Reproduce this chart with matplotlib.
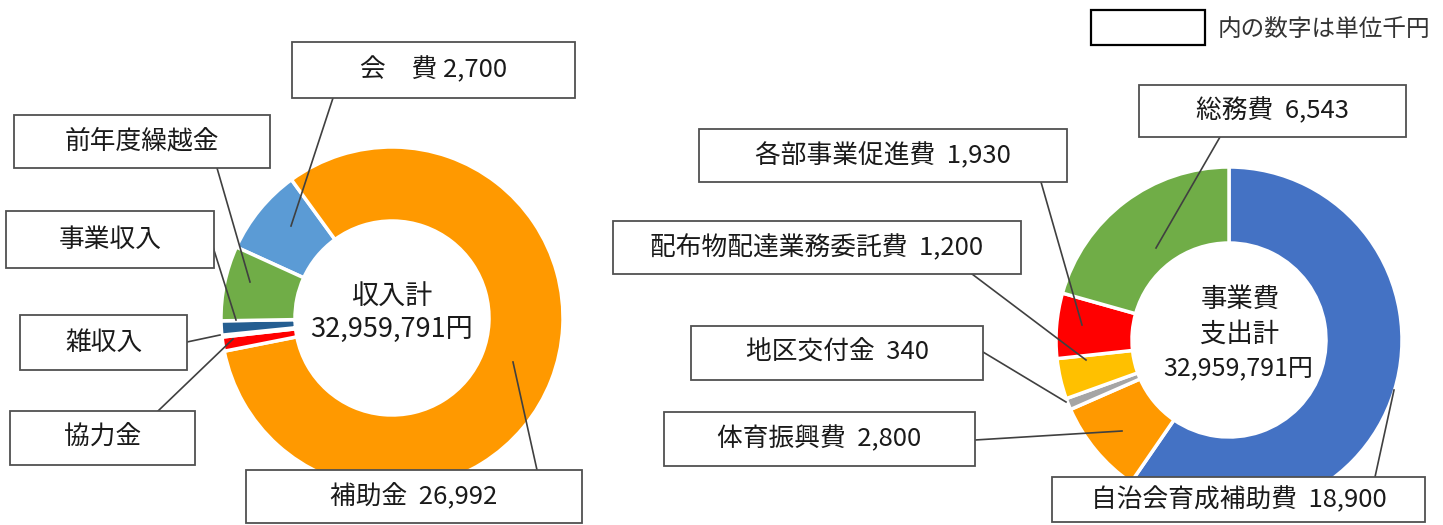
import matplotlib
matplotlib.use("Agg")
import matplotlib.pyplot as plt
from matplotlib.patches import Rectangle

plt.rcParams['font.family'] = ['Noto Sans CJK JP', 'DejaVu Sans']

W, H = 1443, 525

# income (千円), clockwise order
inc_names = ["会費", "補助金", "協力金", "雑収入", "事業収入", "前年度繰越金"]
inc_values = [2700, 26992, 438, 60, 440, 2330]
inc_colors = ["#5B9BD5", "#FF9900", "#FF0000", "#FFFFFF", "#255E91", "#70AD47"]

# expenses (千円), clockwise order from 12 o'clock
exp_names = ["自治会育成補助費", "体育振興費", "地区交付金", "配布物配達業務委託費", "各部事業促進費", "総務費"]
exp_values = [18900, 2800, 340, 1200, 1930, 6543]
exp_colors = ["#4472C4", "#FF9900", "#A5A5A5", "#FFC000", "#FF0000", "#70AD47"]

inc_total = "32,959,791円"
exp_total = "32,959,791円"

inc_labels = ["会　費 2,700", "補助金  26,992", "協力金", "雑収入", "事業収入", "前年度繰越金"]
exp_labels = ["自治会育成補助費  18,900", "体育振興費  2,800", "地区交付金  340",
              "配布物配達業務委託費  1,200", "各部事業促進費  1,930", "総務費  6,543"]

# label boxes in pixel coords (left, top, right, bottom) and leader lines
inc_boxes = [(292, 42, 575, 98), (246, 470, 582, 523), (10, 411, 195, 465),
             (20, 315, 187, 370), (6, 211, 214, 268), (14, 115, 270, 168)]
inc_lines = [((333, 98), (291, 226)), ((537, 470), (513, 362)), ((158, 411), (233, 339)),
             ((187, 342), (220, 335)), ((213, 247), (236, 320)), ((217, 168), (250, 282))]
exp_boxes = [(1052, 477, 1425, 522), (664, 412, 975, 466), (691, 326, 983, 380),
             (613, 221, 1021, 274), (699, 129, 1067, 182), (1139, 85, 1406, 137)]
exp_lines = [((1375, 477), (1394, 390)), ((975, 440), (1122, 431)), ((983, 352), (1066, 402)),
             ((972, 274), (1086, 360)), ((1041, 182), (1082, 325)), ((1220, 137), (1156, 248))]


def py(y):
    return H - y


fig = plt.figure(figsize=(W / 100, H / 100), dpi=100)
ax = fig.add_axes([0, 0, 1, 1])

R, r = 171, 97
ax.pie(inc_values, colors=inc_colors, startangle=155.5, counterclock=False,
       center=(392, py(318)), radius=R,
       wedgeprops=dict(width=R - r, edgecolor='white', linewidth=2.5))
ax.pie(exp_values, colors=exp_colors, startangle=90, counterclock=False,
       center=(1229, py(340)), radius=R + 2,
       wedgeprops=dict(width=R + 2 - r, edgecolor='white', linewidth=2.5))

txt = '#1a1a1a'
ax.text(392, py(296), "収入計", ha='center', va='center', fontsize=19.5, color=txt)
ax.text(392, py(329), inc_total, ha='center', va='center', fontsize=19.5, color=txt)
ax.text(1240, py(299), "事業費", ha='center', va='center', fontsize=19, color=txt)
ax.text(1240, py(334), "支出計", ha='center', va='center', fontsize=19, color=txt)
ax.text(1238, py(368), exp_total, ha='center', va='center', fontsize=18, color=txt)

for labels, boxes, lines in [(inc_labels, inc_boxes, inc_lines), (exp_labels, exp_boxes, exp_lines)]:
    for lab, (x0, y0, x1, y1), (p0, p1) in zip(labels, boxes, lines):
        ax.plot([p0[0], p1[0]], [py(p0[1]), py(p1[1])], color='#404040', lw=1.2, zorder=3)
        ax.add_patch(Rectangle((x0, py(y1)), x1 - x0, y1 - y0, facecolor='white',
                               edgecolor='#505050', lw=1.3, zorder=4))
        ax.text((x0 + x1) / 2, py((y0 + y1) / 2), lab, ha='center', va='center',
                fontsize=18.5, color=txt, zorder=5)

# unit note
ax.add_patch(Rectangle((1091, py(45)), 114, 35, facecolor='white', edgecolor='black', lw=1.6, zorder=4))
ax.text(1218, py(29), "内の数字は単位千円", ha='left', va='center', fontsize=17, color='#333333')

ax.set_xlim(0, W)
ax.set_ylim(0, H)
ax.set_aspect('auto')
ax.axis('off')

fig.savefig("out.png", dpi=100)
